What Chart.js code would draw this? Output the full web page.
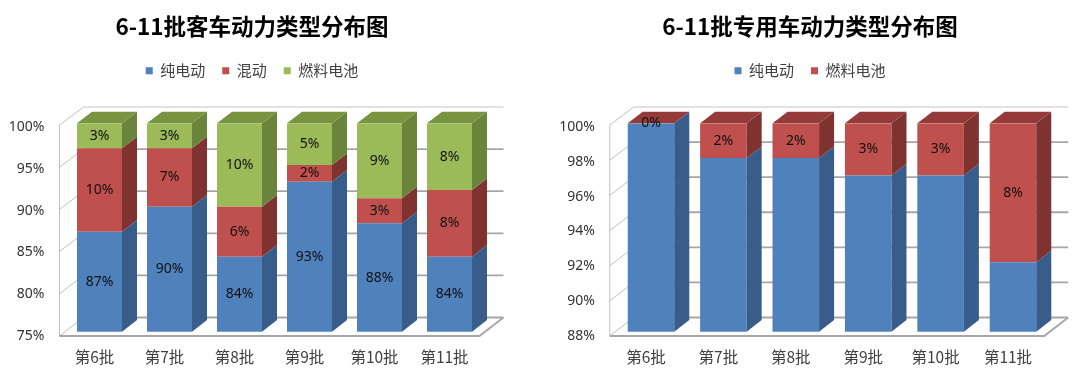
<!DOCTYPE html>
<html><head><meta charset="utf-8">
<script src="https://cdn.jsdelivr.net/npm/chart.js@4"></script>
<style>
html,body{margin:0;padding:0;background:#fff;width:1080px;height:379px;overflow:hidden}
#c1{position:absolute;left:0;top:0}
#c2{position:absolute;left:540px;top:0}
</style></head><body>
<canvas id="c1" width="504" height="379"></canvas>
<canvas id="c2" width="540" height="379"></canvas>
<script>
// ---------- data ----------
const categories = ['第6批', '第7批', '第8批', '第9批', '第10批', '第11批'];
const busPureEV   = [87, 90, 84, 93, 88, 84];
const busHybrid   = [10, 7, 6, 2, 3, 8];
const busFuelCell = [3, 3, 10, 5, 9, 8];
const specialPureEV   = [100, 98, 98, 97, 97, 92];
const specialFuelCell = [0, 2, 2, 3, 3, 8];
const busTickValues     = [75, 80, 85, 90, 95, 100];
const specialTickValues = [88, 90, 92, 94, 96, 98, 100];
const busTitle = '6-11批客车动力类型分布图';
const specialTitle = '6-11批专用车动力类型分布图';

// ---------- styles ----------
const CJK = '"Noto Sans CJK SC", "Noto Sans", sans-serif';
const LAT = '"Noto Sans", "DejaVu Sans", sans-serif';
const COL = {
  blue:  {front: '#4F81BD', side: '#385D8A', top: '#41699A'},
  red:   {front: '#C0504D', side: '#7F3331', top: '#943B39'},
  green: {front: '#9BBB59', side: '#6B843C', top: '#789441'}
};
const DEPTH = {dx: 15, dy: -11.6};

function seg(ctx, pts) {
  ctx.beginPath();
  ctx.moveTo(pts[0][0], pts[0][1]);
  for (let i = 1; i < pts.length; i++) ctx.lineTo(pts[i][0], pts[i][1]);
}

const threeD = {
  id: 'threeD',
  beforeDatasetsDraw(chart) {
    const {ctx, chartArea: a} = chart;
    const y = chart.scales.y;
    const vals = y.ticks.map(t => t.value);
    const min = y.min, max = y.max;
    const fy = v => { const p = y.getPixelForValue(v); return p + 1.7 + (p - a.top) * 0.0125; };
    const by = v => { const p = y.getPixelForValue(v); return p - 16.3 + (p - a.top) * 0.01; };
    const fx = a.left - 5, bl = a.left + 19, br = a.right + 19, fr = a.right - 5;
    ctx.save();
    ctx.lineCap = 'butt';
    // left wall
    ctx.strokeStyle = '#bfbfbf'; ctx.lineWidth = 1;
    vals.forEach(v => { seg(ctx, [[fx, fy(v)], [bl, by(v)]]); ctx.stroke(); });
    seg(ctx, [[fx, fy(max)], [fx, fy(min)]]); ctx.stroke();
    // back wall gridlines
    vals.forEach(v => {
      ctx.strokeStyle = v === max ? '#c4c4c4' : '#a6a6a6';
      ctx.lineWidth = v === max ? 1 : 1.8;
      seg(ctx, [[bl, by(v)], [br, by(v)]]); ctx.stroke();
    });
    // floor
    ctx.strokeStyle = '#a6a6a6'; ctx.lineWidth = 2;
    seg(ctx, [[fx, fy(min)], [fr, fy(min)], [br, by(min)]]); ctx.stroke();
    ctx.restore();
  },
  afterDatasetsDraw(chart) {
    const {ctx, chartArea: a} = chart;
    const n = chart.data.labels.length;
    const sets = chart.data.datasets;
    ctx.save();
    for (let j = 0; j < n; j++) {
      let last = null;
      sets.forEach((ds, i) => {
        const el = chart.getDatasetMeta(i).data[j];
        const w = el.width;
        const L = el.x - w / 2, R = el.x + w / 2;
        const yt = Math.max(Math.min(el.y, el.base), a.top);
        const yb = Math.min(Math.max(el.y, el.base), a.bottom);
        if (yb > yt) {
          ctx.fillStyle = ds.sideColor;
          seg(ctx, [[R, yt], [R + DEPTH.dx, yt + DEPTH.dy], [R + DEPTH.dx, yb + DEPTH.dy], [R, yb]]);
          ctx.closePath(); ctx.fill();
        }
        last = {L, R, yt, color: ds.topColor};
      });
      if (last) {
        ctx.fillStyle = last.color;
        seg(ctx, [[last.L, last.yt], [last.R, last.yt], [last.R + DEPTH.dx, last.yt + DEPTH.dy], [last.L + DEPTH.dx, last.yt + DEPTH.dy]]);
        ctx.closePath(); ctx.fill();
      }
    }
    // value labels
    ctx.font = '14px ' + LAT;
    ctx.fillStyle = '#111';
    ctx.textAlign = 'center';
    ctx.textBaseline = 'middle';
    sets.forEach((ds, i) => {
      if (!ds.showValues) return;
      chart.getDatasetMeta(i).data.forEach((el, j) => {
        const yt = Math.max(Math.min(el.y, el.base), a.top);
        const yb = Math.min(Math.max(el.y, el.base), a.bottom);
        ctx.fillText(ds.data[j] + '%', el.x, (yt + yb) / 2);
      });
    });
    ctx.restore();
  }
};

function makeDataset(label, data, c, showValues) {
  return {
    label, data,
    backgroundColor: c.front, borderWidth: 0,
    sideColor: c.side, topColor: c.top, showValues,
    barPercentage: 0.643, categoryPercentage: 1, clip: 0
  };
}

function makeChart(id, title, datasets, ticks, yWidth, rightSpace) {
  const min = ticks[0], max = ticks[ticks.length - 1];
  return new Chart(document.getElementById(id), {
    type: 'bar',
    data: {labels: categories, datasets},
    plugins: [threeD],
    options: {
      responsive: false, animation: false, devicePixelRatio: 1,
      layout: {padding: 0},
      plugins: {
        title: {display: true, text: title, color: '#000',
          font: {family: CJK, size: 22.5, weight: 'bold', lineHeight: 1.2},
          padding: {top: 13, bottom: 6.2}},
        legend: {display: true, position: 'top',
          labels: {boxWidth: 7, boxHeight: 7, padding: 17, color: '#404040',
            font: {family: CJK, size: 15}}},
        subtitle: {display: true, text: ' ', weight: 500, position: 'top',
          font: {size: 10, lineHeight: 1.2}, padding: {top: 0, bottom: 23.1}},
        tooltip: {enabled: false}
      },
      scales: {
        x: {stacked: true,
          grid: {display: false, drawTicks: false}, border: {display: false},
          ticks: {color: '#404040', font: {family: CJK, size: 15.5}, padding: 16, labelOffset: -5},
          afterFit(ax) { ax.height = 47.3; }},
        y: {stacked: true, min, max,
          grid: {display: false, drawTicks: false}, border: {display: false},
          ticks: {stepSize: ticks[1] - ticks[0], color: '#333', font: {family: LAT, size: 14},
            padding: 20, labelOffset: 4, callback: v => v + '%'},
          afterFit(ax) { ax.width = yWidth; }},
        depthSpace: {type: 'linear', axis: 'y', position: 'right', display: true,
          grid: {display: false, drawTicks: false}, border: {display: false},
          ticks: {display: false},
          afterFit(ax) { ax.width = rightSpace; }}
      }
    }
  });
}

makeChart('c1', busTitle, [
  makeDataset('纯电动', busPureEV, COL.blue, true),
  makeDataset('混动', busHybrid, COL.red, true),
  makeDataset('燃料电池', busFuelCell, COL.green, true)
], busTickValues, 64.5, 19.5);

makeChart('c2', specialTitle, [
  makeDataset('纯电动', specialPureEV, COL.blue, false),
  makeDataset('燃料电池', specialFuelCell, COL.red, true)
], specialTickValues, 74.8, 30.8);
</script></body></html>
